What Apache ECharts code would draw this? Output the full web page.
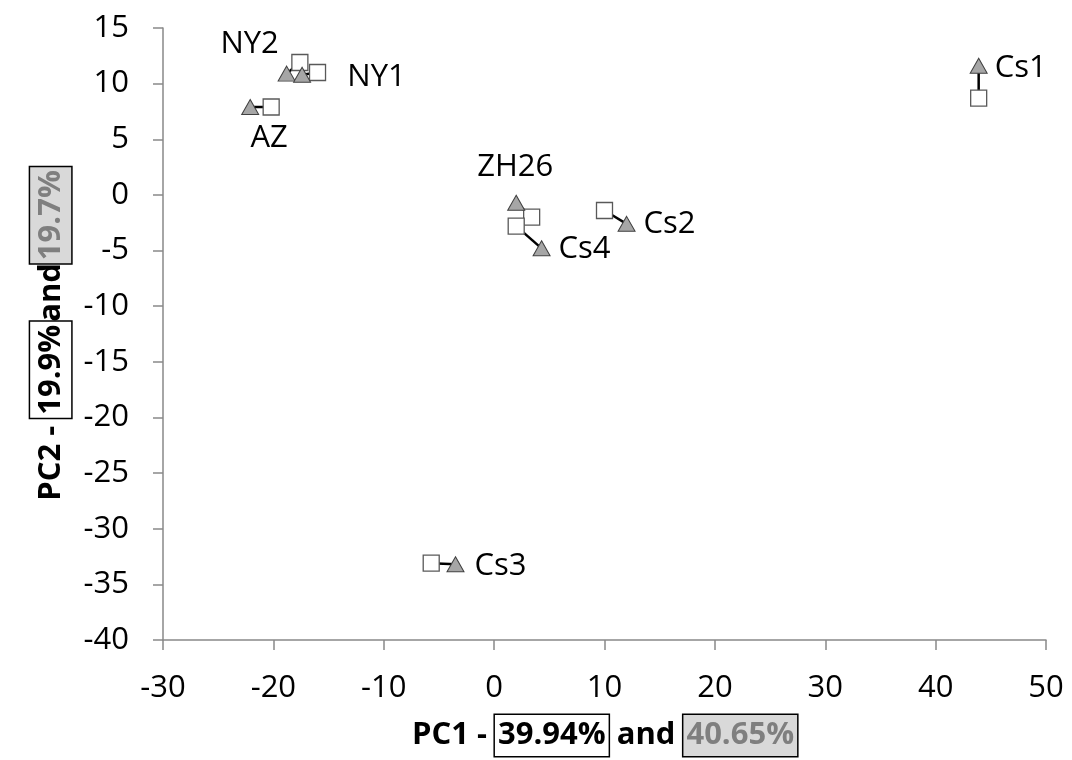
<!DOCTYPE html>
<html>
<head>
<meta charset="utf-8">
<script src="https://cdn.jsdelivr.net/npm/echarts@6/dist/echarts.min.js"></script>
<style>
html,body{margin:0;padding:0;background:#fff;}
#chart{width:1072px;height:760px;}
</style>
</head>
<body>
<div id="chart"></div>
<script>
// ---- data ----
var samples = ['AZ', 'NY2', 'NY1', 'ZH26', 'Cs4', 'Cs2', 'Cs3', 'Cs1'];
var squareX = [-20.2, -17.6, -16.0, 3.4, 2.0, 10.0, -5.7, 43.9];
var squareY = [7.9, 11.9, 11.0, -2.0, -2.8, -1.4, -33.1, 8.7];
var triangleX = [-22.1, -18.8, -17.4, 2.0, 4.3, 12.0, -3.5, 43.9];
var triangleY = [7.9, 10.9, 10.8, -0.7, -4.8, -2.6, -33.2, 11.6];
var xTicks = [-30, -20, -10, 0, 10, 20, 30, 40, 50];
var yTicks = [-40, -35, -30, -25, -20, -15, -10, -5, 0, 5, 10, 15];

// ---- styles (label placement per sample) ----
var labelStyle = {
  AZ:   { on: 'square',   offset: [-2, 31] },
  NY2:  { on: 'triangle', offset: [-37, -29] },
  NY1:  { on: 'square',   offset: [59, 5] },
  ZH26: { on: 'triangle', offset: [-1, -36] },
  Cs4:  { on: 'triangle', offset: [43, 1] },
  Cs2:  { on: 'triangle', offset: [43, 0] },
  Cs3:  { on: 'triangle', offset: [45, 2] },
  Cs1:  { on: 'triangle', offset: [42, 2] }
};

var FONT = '"Open Sans", "Noto Sans", sans-serif';
var FS = 31;

function pointLabel(name, which) {
  var s = labelStyle[name];
  if (s.on !== which) return { show: false };
  return {
    show: true,
    position: 'inside',
    offset: s.offset,
    formatter: name,
    color: '#000',
    fontFamily: FONT,
    fontSize: FS
  };
}

var series = samples.map(function (name, i) {
  return {
    type: 'line',
    name: name,
    z: 3,
    lineStyle: { color: '#000', width: 2.5 },
    data: [
      {
        value: [squareX[i], squareY[i]],
        symbol: 'rect',
        symbolSize: 16,
        itemStyle: { color: '#fff', borderColor: '#595959', borderWidth: 1.3 },
        label: pointLabel(name, 'square')
      },
      {
        value: [triangleX[i], triangleY[i]],
        symbol: 'triangle',
        symbolSize: [17, 15],
        itemStyle: { color: '#a6a6a6', borderColor: '#404040', borderWidth: 1 },
        label: pointLabel(name, 'triangle')
      }
    ],
    emphasis: { disabled: true },
    animation: false
  };
});

var titleRich = {
  b: { fontFamily: FONT, fontWeight: 'bold', fontSize: 31, color: '#000' },
  w: { fontFamily: FONT, fontWeight: 'bold', fontSize: 31, color: '#000',
       backgroundColor: '#fff', borderColor: '#000', borderWidth: 1.5, padding: [5, 3, 5, 3] },
  g: { fontFamily: FONT, fontWeight: 'bold', fontSize: 31, color: '#7f7f7f',
       backgroundColor: '#d9d9d9', borderColor: '#000', borderWidth: 1.5, padding: [5, 3, 5, 3] }
};

var chart = echarts.init(document.getElementById('chart'), null, { renderer: 'canvas' });
chart.setOption({
  backgroundColor: '#fff',
  animation: false,
  grid: { left: 163, right: 26, top: 28, bottom: 120, containLabel: false, outerBoundsMode: 'none' },
  xAxis: {
    type: 'value',
    min: xTicks[0],
    max: xTicks[xTicks.length - 1],
    interval: 10,
    splitLine: { show: false },
    axisLine: { show: true, onZero: false, lineStyle: { color: '#898989', width: 1.5 } },
    axisTick: { show: true, inside: false, length: 10, lineStyle: { color: '#898989', width: 1.5 } },
    axisLabel: { color: '#000', fontFamily: FONT, fontSize: FS, margin: 33 },
    name: '{b|PC1 - }{w|39.94%}{b| and }{g|40.65%}',
    nameLocation: 'middle',
    nameGap: 75,
    nameTextStyle: { rich: titleRich }
  },
  yAxis: {
    type: 'value',
    min: yTicks[0],
    max: yTicks[yTicks.length - 1],
    interval: 5,
    splitLine: { show: false },
    axisLine: { show: true, onZero: false, lineStyle: { color: '#898989', width: 1.5 } },
    axisTick: { show: true, inside: false, length: 10, lineStyle: { color: '#898989', width: 1.5 } },
    axisLabel: { color: '#000', fontFamily: FONT, fontSize: FS, margin: 34 },
    name: '{b|PC2 - }{w|19.9%}{b|and}{g|19.7%}',
    nameLocation: 'middle',
    nameRotate: 90,
    nameGap: 90,
    nameTextStyle: { rich: titleRich }
  },
  series: series
});
</script>
</body>
</html>
